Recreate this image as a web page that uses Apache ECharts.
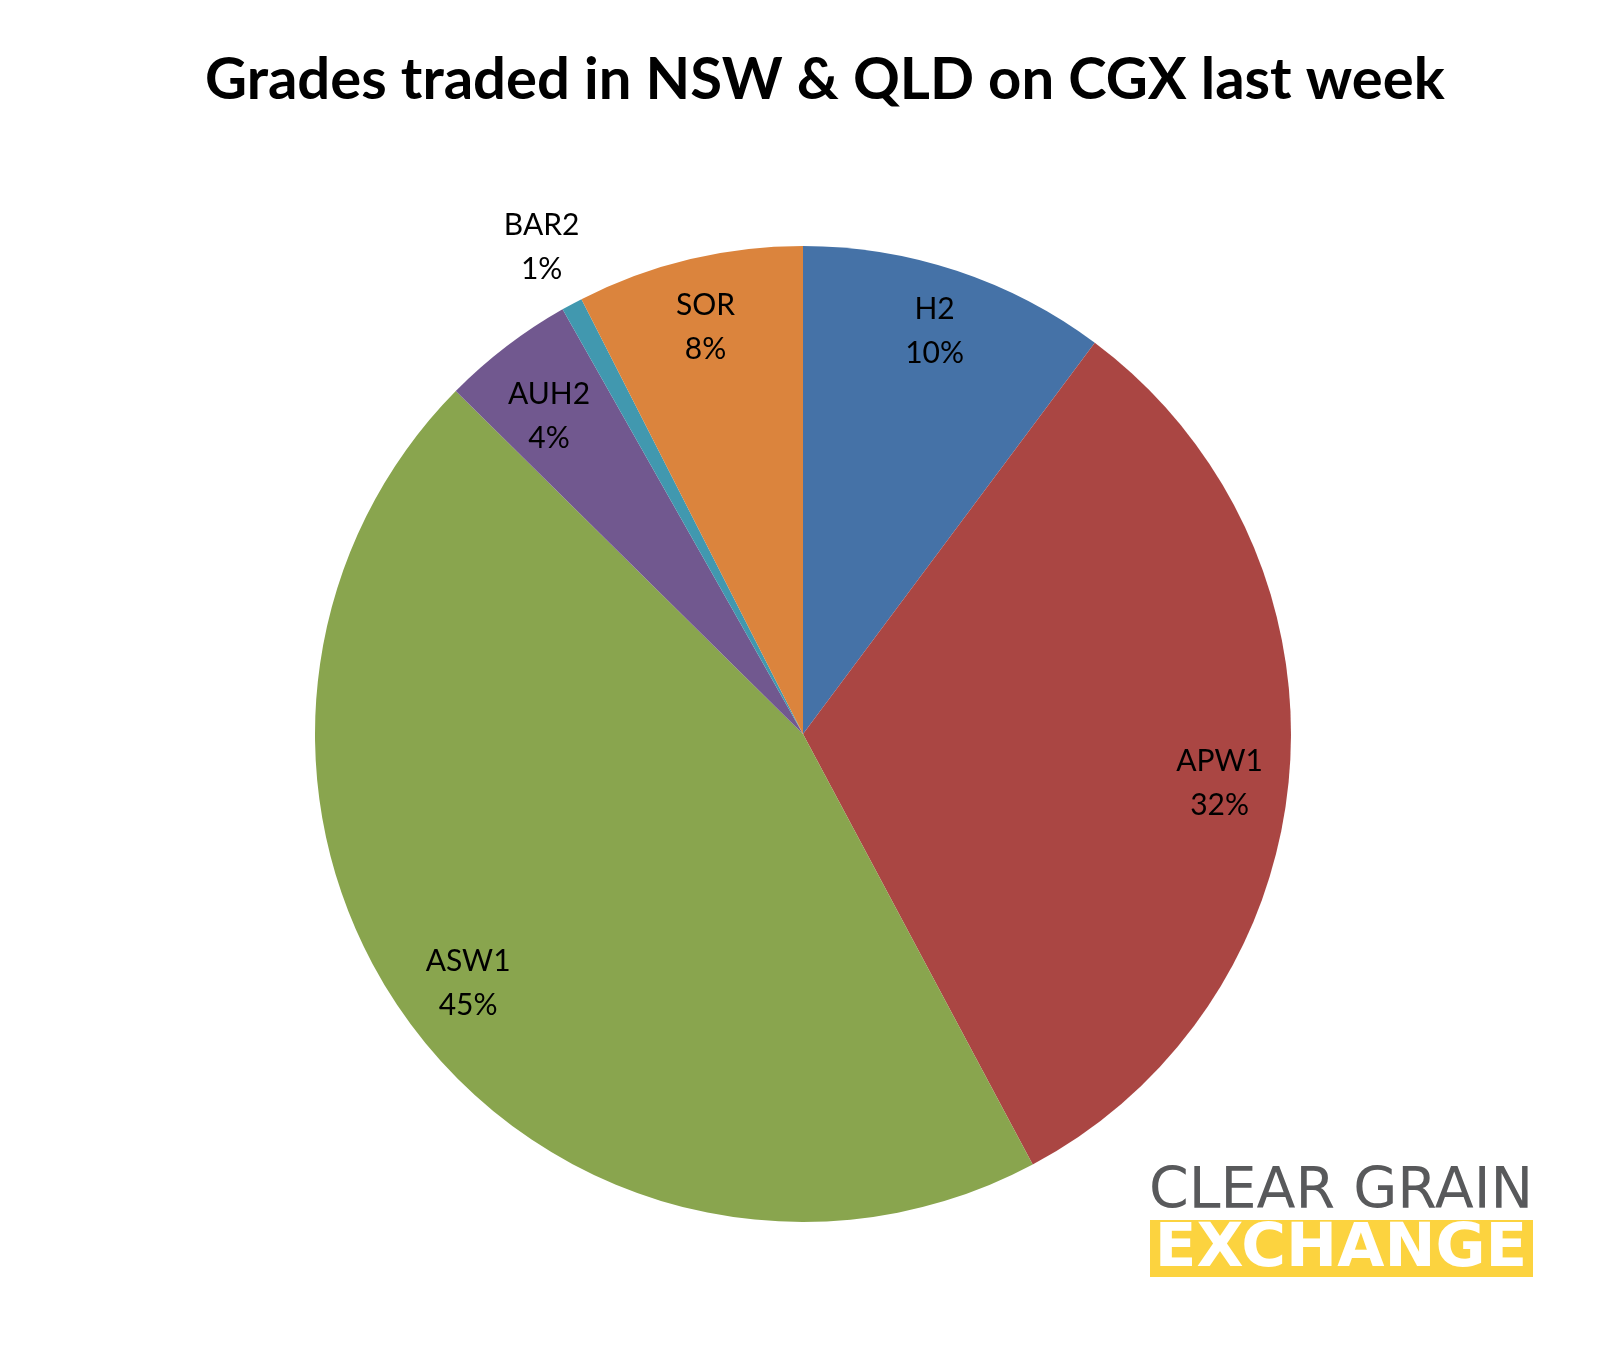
<!DOCTYPE html>
<html><head><meta charset="utf-8">
<script src="https://cdn.jsdelivr.net/npm/echarts@6/dist/echarts.min.js"></script>
<style>html,body{margin:0;padding:0;background:#fff}#c{width:1608px;height:1350px}</style>
</head><body><div id="c"></div>
<script>
const categories = ['H2', 'APW1', 'ASW1', 'AUH2', 'BAR2', 'SOR'];
const shares = [10.2, 32.0, 45.2, 4.4, 0.7, 7.5];
const colors = ['#4572A7', '#AA4643', '#89A54E', '#71588F', '#4198AF', '#DB843D'];
const titleText = 'Grades traded in NSW & QLD on CGX last week';
const outsideLabel = 'BAR2';

const CX = 803, CY = 734, R = 488;
const FONT = 'Lato, "Noto Sans", sans-serif';
const labelStyle = { color: '#000', fontSize: 30, lineHeight: 44, fontFamily: FONT };
// small label nudges (Excel places some labels slightly off the mid-angle)
const labelShift = { H2: 'up', APW1: 'downL', AUH2: 'downS' };
const labelRich = {
  up: { lineHeight: 12, fontSize: 1 },
  downL: { lineHeight: 36, fontSize: 1 },
  downS: { lineHeight: 28, fontSize: 1 }
};
const labelFormatter = (p) => {
  const core = p.name + '\n' + p.percent + '%';
  const s = labelShift[p.name];
  if (s === 'up') return core + '\n{up| }';
  if (s) return '{' + s + '| }\n' + core;
  return core;
};

const data = categories.map((c, i) => ({ name: c, value: shares[i], itemStyle: { color: colors[i] } }));
const overlay = (showFn) => categories.map((c, i) => ({
  name: c, value: shares[i],
  itemStyle: { color: 'rgba(0,0,0,0)' },
  label: { show: showFn(c) }
}));

const chart = echarts.init(document.getElementById('c'), null, { renderer: 'canvas' });
chart.setOption({
  backgroundColor: '#fff',
  animation: false,
  title: {
    text: titleText, left: 200, top: 46,
    textStyle: { fontFamily: FONT, fontWeight: 'bold', fontSize: 58, color: '#000' }
  },
  series: [
    {
      type: 'pie', center: [CX, CY], radius: [0, R], startAngle: 90, clockwise: true,
      silent: true, label: { show: false }, labelLine: { show: false },
      itemStyle: { borderWidth: 0 }, data: data
    },
    {
      type: 'pie', center: [CX, CY], radius: [R * 0.7, R], startAngle: 90, clockwise: true,
      silent: true, labelLine: { show: false }, percentPrecision: 0,
      label: Object.assign({ position: 'inside', formatter: labelFormatter, rich: labelRich }, labelStyle),
      data: overlay(c => c !== outsideLabel)
    },
    {
      type: 'pie', center: [CX, CY], radius: [R * 1.0, R * 1.25], startAngle: 90, clockwise: true,
      silent: true, labelLine: { show: false }, percentPrecision: 0,
      label: Object.assign({ position: 'inside', formatter: labelFormatter, rich: labelRich }, labelStyle),
      data: overlay(c => c === outsideLabel)
    }
  ],
  graphic: [
    { type: 'text', x: 1341, y: 1193, style: { text: 'CLEAR GRAIN', fill: '#58595B', font: 'normal 57px "DejaVu Sans"', textVerticalAlign: 'middle', textAlign: 'center' } },
    { type: 'rect', shape: { x: 1150, y: 1220, width: 383, height: 57 }, style: { fill: '#FCD33F' } },
    { type: 'text', x: 1341, y: 1250, style: { text: 'EXCHANGE', fill: '#fff', font: 'bold 61px "DejaVu Sans"', textVerticalAlign: 'middle', textAlign: 'center' } }
  ]
});
</script></body></html>
